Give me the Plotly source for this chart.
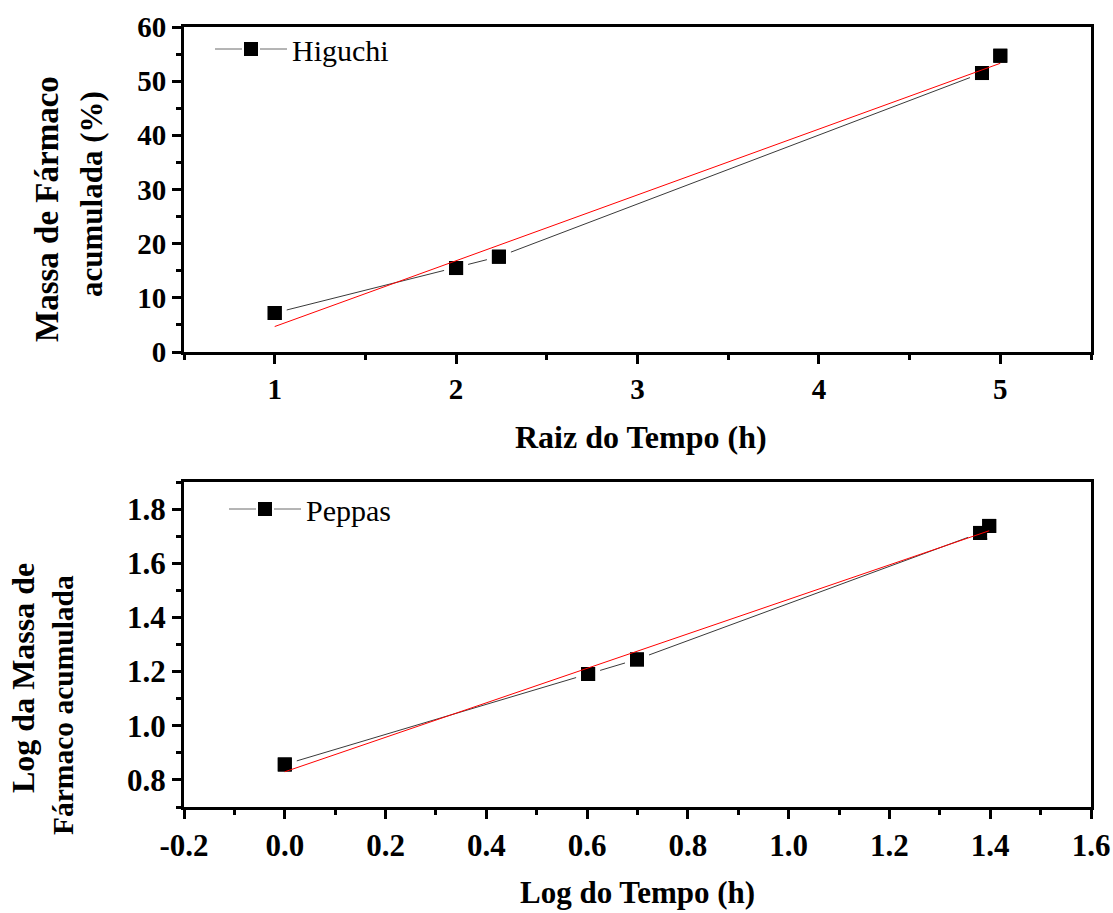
import plotly.graph_objects as go

# ---------------- data ----------------
hig_x = [1.0, 2.0, 2.236, 4.899, 5.0]
hig_y = [7.2, 15.5, 17.6, 51.5, 54.7]
hig_fit_x = [1.0, 5.0]
hig_fit_y = [4.7, 53.3]

pep_x = [0.0, 0.602, 0.699, 1.380, 1.398]
pep_y = [0.857, 1.191, 1.245, 1.712, 1.738]
pep_fit_x = [0.0, 1.398]
pep_fit_y = [0.83, 1.72]

top_yticks = [0, 10, 20, 30, 40, 50, 60]
top_xticks = [1, 2, 3, 4, 5]
bot_yticks = [0.8, 1.0, 1.2, 1.4, 1.6, 1.8]
bot_xticks = [-0.2, 0.0, 0.2, 0.4, 0.6, 0.8, 1.0, 1.2, 1.4, 1.6]

# ---------------- layout helpers ----------------
W, H = 1113, 913
FONT = "Liberation Serif"


def px_x(p):
    return p / W


def px_y(p):
    return 1 - p / H


fig = go.Figure()


def add_series(x, y, fx, fy, name, xa, ya, leg):
    # connecting line with a white halo around markers (gap effect)
    fig.add_trace(go.Scatter(
        x=x, y=y, mode="lines+markers", name=name, xaxis=xa, yaxis=ya,
        showlegend=False,
        line=dict(color="#3a3a3a", width=1),
        marker=dict(symbol="square", size=19, color="black",
                    line=dict(color="white", width=5)),
    ))
    # solid markers on top
    fig.add_trace(go.Scatter(
        x=x, y=y, mode="markers", showlegend=False, xaxis=xa, yaxis=ya,
        marker=dict(symbol="square", size=14, color="black"),
    ))
    # red linear fit
    fig.add_trace(go.Scatter(
        x=fx, y=fy, mode="lines", showlegend=False, xaxis=xa, yaxis=ya,
        line=dict(color="red", width=1),
    ))
    # legend entry
    fig.add_trace(go.Scatter(
        x=[None], y=[None], mode="lines+markers", name=name,
        xaxis=xa, yaxis=ya, legend=leg,
        line=dict(color="#6a6a6a", width=1),
        marker=dict(symbol="square", size=16, color="black",
                    line=dict(color="white", width=2)),
    ))


add_series(hig_x, hig_y, hig_fit_x, hig_fit_y, "Higuchi", "x", "y", "legend")
add_series(pep_x, pep_y, pep_fit_x, pep_fit_y, "Peppas", "x2", "y2", "legend2")

tickfont = dict(family=FONT, size=29, color="black", weight="bold")
common = dict(
    showline=True, linecolor="black", linewidth=3, mirror=True,
    ticks="outside", ticklen=9, tickwidth=3, tickcolor="black",
    showgrid=False, zeroline=False, tickfont=tickfont,
    minor=dict(ticks="outside", ticklen=5, tickwidth=3,
               tickcolor="black", showgrid=False),
)

xdom = [px_x(184), px_x(1091)]

fig.update_layout(
    width=W, height=H,
    margin=dict(l=0, r=0, t=0, b=0, autoexpand=False),
    paper_bgcolor="white", plot_bgcolor="white",
    xaxis=dict(common, domain=xdom, range=[0.5, 5.5], anchor="y",
               tickvals=top_xticks, ticktext=[str(v) for v in top_xticks],
               minor=dict(common["minor"], dtick=0.5, tick0=0)),
    yaxis=dict(common, domain=[px_y(352), px_y(27)], range=[0, 60],
               anchor="x", tickvals=top_yticks,
               ticktext=[str(v) for v in top_yticks],
               minor=dict(common["minor"], dtick=5, tick0=0)),
    xaxis2=dict(common, domain=xdom, range=[-0.2, 1.6], anchor="y2",
                tickvals=bot_xticks,
                ticktext=["%.1f" % v for v in bot_xticks],
                tickfont=dict(tickfont, size=31),
                minor=dict(common["minor"], dtick=0.1, tick0=0)),
    yaxis2=dict(common, domain=[px_y(807), px_y(482)], range=[0.7, 1.9],
                anchor="x2", tickvals=bot_yticks,
                ticktext=["%.1f" % v for v in bot_yticks],
                tickfont=dict(tickfont, size=31),
                minor=dict(common["minor"], dtick=0.1, tick0=0.1)),
    legend=dict(x=px_x(210), y=px_y(23), xanchor="left", yanchor="top",
                bgcolor="rgba(0,0,0,0)", itemwidth=72,
                font=dict(family=FONT, size=30, color="black")),
    legend2=dict(x=px_x(224), y=px_y(483), xanchor="left", yanchor="top",
                 bgcolor="rgba(0,0,0,0)", itemwidth=72,
                 font=dict(family=FONT, size=30, color="black")),
)

titlefont = dict(family=FONT, size=32, color="black", weight="bold")
ann = [
    dict(text="Raiz do Tempo (h)", x=px_x(641), y=px_y(437),
         xanchor="center", yanchor="middle", font=titlefont),
    dict(text="Log do Tempo (h)", x=px_x(637), y=px_y(892),
         xanchor="center", yanchor="middle", font=dict(titlefont, size=31)),
    dict(text="Massa de Fármaco", x=px_x(47), y=px_y(209), textangle=-90,
         xanchor="center", yanchor="middle", font=dict(titlefont, size=33)),
    dict(text="acumulada (%)", x=px_x(91), y=px_y(194), textangle=-90,
         xanchor="center", yanchor="middle", font=dict(titlefont, size=31)),
    dict(text="Log da Massa de", x=px_x(23), y=px_y(678), textangle=-90,
         xanchor="center", yanchor="middle", font=dict(titlefont, size=32)),
    dict(text="Fármaco acumulada", x=px_x(63), y=px_y(705), textangle=-90,
         xanchor="center", yanchor="middle", font=dict(titlefont, size=29.5)),
]
for a in ann:
    a.update(xref="paper", yref="paper", showarrow=False)
fig.update_layout(annotations=ann)

fig.write_html("out.html")
